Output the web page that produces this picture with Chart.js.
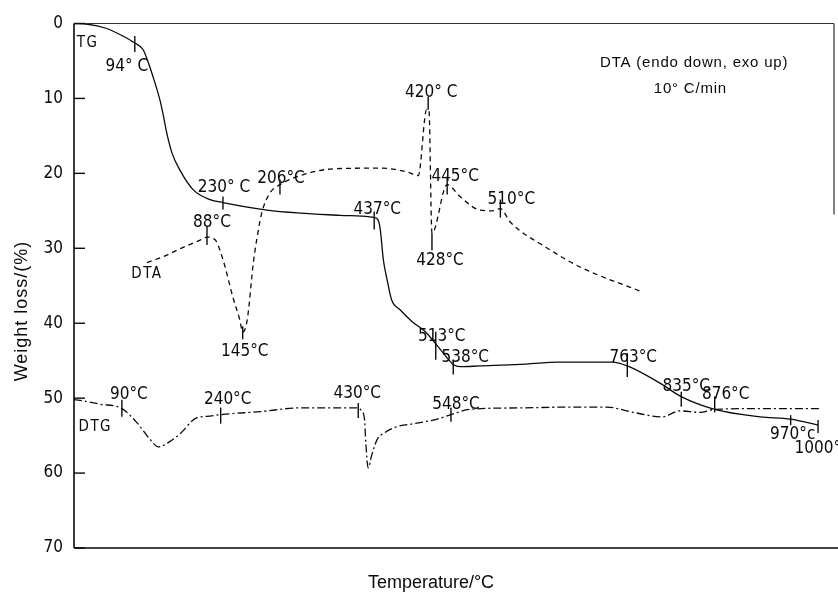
<!DOCTYPE html>
<html>
<head>
<meta charset="utf-8">
<script src="https://cdn.jsdelivr.net/npm/chart.js@4.4.1/dist/chart.umd.min.js"></script>
<style>
html,body{margin:0;padding:0;background:#fff;}
#c{display:block;}
</style>
</head>
<body>
<canvas id="c" width="838" height="595"></canvas>
<script>
// ---- DATA (x = position along the unlabeled temperature axis, % of axis length; y = weight loss %) ----
const tgX = [0,1.8,4.1,6.1,8.0,9.1,9.7,10.4,11.3,11.7,12.2,12.9,13.9,15.7,17.9,19.6,25.4,29.7,35.0,38.9,39.5,40.0,40.3,40.7,41.2,41.8,42.9,44.5,46.2,48.2,49.9,50.8,53.4,58.7,63.9,70.8,72.8,77.1,79.9,84.3,90.3,94.3,97.9];
const tgY = [0,0.1,0.6,1.5,2.6,3.5,5.0,7.1,10.2,12,14.6,17.3,19.5,22.2,23.5,23.9,24.9,25.3,25.6,25.8,25.9,26.2,27.5,31.5,34.2,36.9,38.2,39.8,41.1,43.5,45.5,45.8,45.7,45.5,45.2,45.2,45.7,48,49.8,51.5,52.5,52.8,53.6];

const dtaX = [9.6,12.0,14.3,16.6,17.5,18.6,19.6,20.9,21.8,22.2,22.8,23.6,24.1,24.7,25.8,27.1,30.1,34.1,40.3,43.8,45.3,46.4,46.7,47.1,49.1,50.8,53.4,55.1,56.1,57.4,62.0,66.6,74.7];
const dtaY = [31.9,31.0,29.9,28.9,28.5,28.9,31.5,36.5,39.5,41.2,39.5,31.9,28.5,25.3,22.6,21.5,20.2,19.4,19.3,19.8,20.3,11.5,11.5,28,21.5,23.1,24.9,25,24.7,26.5,29.8,32.5,35.8];

const dtgX = [0,0.8,3.4,6.3,8.3,10.0,11.1,12.6,13.9,16.2,17.9,19.3,24.5,29.7,35.0,37.4,37.9,38.2,38.4,38.7,39.2,39.9,40.9,42.5,44.2,46.4,47.8,49.6,52.1,58.7,64.9,70.1,73.6,77.4,79.7,82.4,84.3,90.3,98.2];
const dtgY = [50.2,50.3,50.8,51.4,53.3,55.5,56.5,55.8,54.8,52.6,52.4,52.2,51.8,51.3,51.3,51.3,51.8,52.6,56,59.3,57.5,55.5,54.6,53.8,53.5,53.1,52.8,52.2,51.5,51.3,51.2,51.2,51.9,52.5,51.7,51.9,51.5,51.4,51.4];

const yTicks = [0,10,20,30,40,50,60,70];

// annotated temperatures (label text, point on curve)
const annoText = ["94° C","230° C","437°C","513°C","538°C","763°C","835°C","876°C","970°c","1000°c","88°C","145°C","206°C","420° C","428°C","445°C","510°C","90°C","240°C","430°C","548°C"];
const annoX = [8.0,19.6,39.5,47.6,49.9,72.8,79.9,84.3,94.3,97.9,17.5,22.2,27.1,46.6,47.1,49.1,56.1,6.3,19.3,37.4,49.6];
const annoY = [2.6,23.9,25.9,42.6,45.5,45.7,49.8,51.5,52.8,53.6,28.5,41.2,21.5,11.5,28,21.5,24.7,51.4,52.2,51.3,52.2];

const curveNames = ["TG","DTA","DTG"];
const noteLines = ["DTA (endo down, exo up)","10° C/min"];
const axisTitleX = "Temperature/°C";
const axisTitleY = "Weight loss/(%)";

// ---- LAYOUT / STYLE (not data) ----
const tickUp    = [7,6,6,11,5,13,5,13,4,5,10,6,5,13,0,8,9,9,7,5,7];
const tickDown  = [9,7,12,17,10,11,10,3,6,8,8,7,10,0,17,10,9,8,9,10,7];
const labelDx   = [-8,1,3,6,12,6,5,11,2,4,5,2,1,3,8,8,11,7,7,-1,5];
const labelDy   = [24,-15,-8,-6,-7,-8,-10,-15,15,23,-14,19,-6,-17,27,-8,-9,-14,-15,-14,-10];
const curveLabelPos = [[1.8,2.6],[9.6,33.5],[2.8,53.9]];
const notePos = [[81.6,5.3],[81.1,8.7]];

const NARROW = '"Liberation Sans Narrow","DejaVu Sans Condensed","Liberation Sans",sans-serif';
const REG = '"Liberation Sans","DejaVu Sans",sans-serif';
const INK = '#0a0a0a';

function pts(xs, ys){ return xs.map((x,i)=>({x:x, y:ys[i]})); }

const drawPlugin = {
  id:'decor',
  afterDatasetsDraw(chart){
    const ctx = chart.ctx, a = chart.chartArea;
    const xs = chart.scales.x, ys = chart.scales.y;
    ctx.save();
    // frame
    ctx.strokeStyle = INK; ctx.lineWidth = 1.6;
    ctx.beginPath(); ctx.moveTo(a.left, a.top); ctx.lineTo(a.left, a.bottom); ctx.stroke();
    ctx.strokeStyle = '#444'; ctx.lineWidth = 2;
    ctx.beginPath(); ctx.moveTo(a.left, a.bottom); ctx.lineTo(chart.width, a.bottom); ctx.stroke();
    ctx.strokeStyle = '#333'; ctx.lineWidth = 1.2;
    ctx.beginPath(); ctx.moveTo(a.left, a.top); ctx.lineTo(a.right, a.top); ctx.stroke();
    ctx.beginPath(); ctx.moveTo(a.right, a.top); ctx.lineTo(a.right, ys.getPixelForValue(25.5)); ctx.stroke();
    // inner y ticks
    ctx.strokeStyle = INK; ctx.lineWidth = 1.4;
    yTicks.forEach(v=>{
      const py = ys.getPixelForValue(v);
      ctx.beginPath(); ctx.moveTo(a.left, py); ctx.lineTo(a.left+11, py); ctx.stroke();
    });
    // annotation ticks and labels
    ctx.fillStyle = INK; ctx.textAlign = 'center'; ctx.textBaseline = 'middle';
    ctx.font = '17px ' + NARROW;
    ctx.lineWidth = 1.4;
    annoText.forEach((t,i)=>{
      const px = xs.getPixelForValue(annoX[i]), py = ys.getPixelForValue(annoY[i]);
      ctx.beginPath(); ctx.moveTo(px, py - tickUp[i]); ctx.lineTo(px, py + tickDown[i]); ctx.stroke();
      ctx.fillText(t, px + labelDx[i], py + labelDy[i]);
    });
    // curve names
    ctx.font = '15px ' + NARROW;
    ctx.letterSpacing = '1.5px';
    curveNames.forEach((n,i)=>{
      ctx.fillText(n, xs.getPixelForValue(curveLabelPos[i][0]), ys.getPixelForValue(curveLabelPos[i][1]));
    });
    // note
    ctx.font = '15px ' + REG;
    ctx.letterSpacing = '0.8px';
    noteLines.forEach((n,i)=>{
      ctx.fillText(n, xs.getPixelForValue(notePos[i][0]), ys.getPixelForValue(notePos[i][1]));
    });
    // axis titles
    ctx.letterSpacing = '0px';
    ctx.font = '18px ' + REG;
    ctx.fillText(axisTitleX, 431, 583);
    ctx.save();
    ctx.translate(22, 311); ctx.rotate(-Math.PI/2);
    ctx.letterSpacing = '1px';
    ctx.fillText(axisTitleY, 0, 0);
    ctx.restore();
    ctx.restore();
  }
};

const lineBase = {pointRadius:0, borderColor:INK, borderWidth:1.3, fill:false, cubicInterpolationMode:'monotone'};

new Chart(document.getElementById('c'), {
  type:'line',
  data:{
    datasets:[
      Object.assign({label:curveNames[0], data:pts(tgX,tgY)}, lineBase),
      Object.assign({label:curveNames[1], data:pts(dtaX,dtaY), borderDash:[5,4]}, lineBase),
      Object.assign({label:curveNames[2], data:pts(dtgX,dtgY), borderDash:[8,3,2,3]}, lineBase)
    ]
  },
  options:{
    responsive:false,
    devicePixelRatio:1,
    animation:false,
    layout:{padding:{left:0,right:4,top:23.5,bottom:47}},
    plugins:{legend:{display:false}, tooltip:{enabled:false}},
    scales:{
      x:{type:'linear', min:0, max:100, display:false},
      y:{
        min:0, max:70, reverse:true,
        afterFit(s){ s.width = 74; },
        afterBuildTicks(s){ s.ticks = yTicks.map(v=>({value:v})); },
        ticks:{font:{family:NARROW, size:17}, color:INK, padding:11},
        grid:{display:false, drawTicks:false},
        border:{display:false}
      }
    }
  },
  plugins:[drawPlugin]
});
</script>
</body>
</html>
